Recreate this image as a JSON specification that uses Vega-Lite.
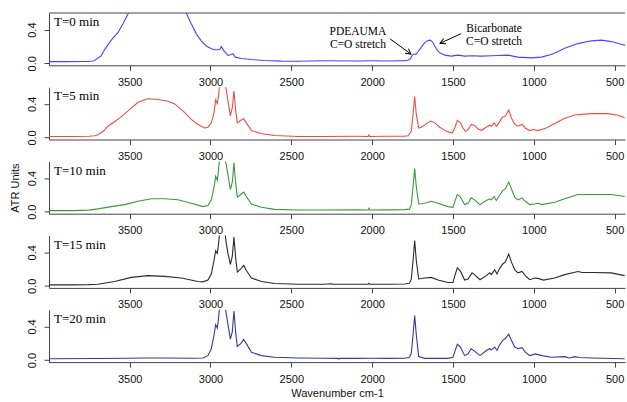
{
  "$schema": "https://vega.github.io/schema/vega-lite/v6.json",
  "padding": {"left": 8, "top": 12, "right": 0, "bottom": 0},
  "bounds": "flush",
  "spacing": 21.2,
  "config": {
    "view": {"stroke": null},
    "axis": {"labelFont": "Liberation Sans", "labelFontSize": 11, "labelColor": "#111", "domainColor": "#444", "tickColor": "#444", "tickSize": 5, "grid": false, "titleFont": "Liberation Sans", "titleFontSize": 11, "titleFontWeight": "normal", "titleColor": "#111"},
    "line": {"strokeWidth": 1.1}
  },
  "datasets": {
    "s0": [{"w":4000,"a":0.02},{"w":3900,"a":0.02},{"w":3800,"a":0.021},{"w":3758,"a":0.022},{"w":3730,"a":0.027},{"w":3716,"a":0.033},{"w":3696,"a":0.064},{"w":3677,"a":0.085},{"w":3654,"a":0.166},{"w":3614,"a":0.275},{"w":3572,"a":0.367},{"w":3541,"a":0.469},{"w":3510,"a":0.59},{"w":3480,"a":0.75},{"w":3400,"a":0.95},{"w":3300,"a":1.0},{"w":3200,"a":0.85},{"w":3160,"a":0.66},{"w":3150,"a":0.598},{"w":3119,"a":0.469},{"w":3088,"a":0.35},{"w":3057,"a":0.267},{"w":3026,"a":0.206},{"w":2995,"a":0.173},{"w":2964,"a":0.158},{"w":2943,"a":0.166},{"w":2933,"a":0.198},{"w":2916,"a":0.145},{"w":2892,"a":0.093},{"w":2871,"a":0.105},{"w":2861,"a":0.113},{"w":2847,"a":0.073},{"w":2809,"a":0.057},{"w":2747,"a":0.045},{"w":2665,"a":0.033},{"w":2562,"a":0.026},{"w":2459,"a":0.025},{"w":2300,"a":0.03},{"w":2100,"a":0.028},{"w":2000,"a":0.03},{"w":1900,"a":0.028},{"w":1800,"a":0.032},{"w":1778,"a":0.036},{"w":1765,"a":0.05},{"w":1750,"a":0.1},{"w":1740,"a":0.11},{"w":1730,"a":0.105},{"w":1715,"a":0.14},{"w":1700,"a":0.18},{"w":1675,"a":0.246},{"w":1655,"a":0.27},{"w":1640,"a":0.275},{"w":1625,"a":0.25},{"w":1613,"a":0.206},{"w":1595,"a":0.15},{"w":1582,"a":0.125},{"w":1551,"a":0.097},{"w":1510,"a":0.085},{"w":1469,"a":0.097},{"w":1428,"a":0.085},{"w":1380,"a":0.09},{"w":1325,"a":0.085},{"w":1260,"a":0.09},{"w":1222,"a":0.093},{"w":1160,"a":0.097},{"w":1130,"a":0.085},{"w":1098,"a":0.073},{"w":1016,"a":0.064},{"w":954,"a":0.073},{"w":892,"a":0.105},{"w":850,"a":0.14},{"w":809,"a":0.178},{"w":727,"a":0.234},{"w":644,"a":0.267},{"w":582,"a":0.275},{"w":521,"a":0.258},{"w":459,"a":0.226},{"w":430,"a":0.21}],
    "s1": [{"w":4000,"a":0.012},{"w":3850,"a":0.012},{"w":3750,"a":0.015},{"w":3716,"a":0.02},{"w":3696,"a":0.033},{"w":3660,"a":0.08},{"w":3634,"a":0.134},{"w":3572,"a":0.216},{"w":3510,"a":0.317},{"w":3448,"a":0.418},{"w":3387,"a":0.46},{"w":3325,"a":0.451},{"w":3263,"a":0.43},{"w":3222,"a":0.399},{"w":3170,"a":0.317},{"w":3119,"a":0.216},{"w":3078,"a":0.155},{"w":3036,"a":0.113},{"w":3016,"a":0.122},{"w":2995,"a":0.174},{"w":2978,"a":0.296},{"w":2968,"a":0.447},{"w":2958,"a":0.406},{"w":2950,"a":0.5},{"w":2943,"a":0.65},{"w":2925,"a":0.7},{"w":2912,"a":0.65},{"w":2902,"a":0.56},{"w":2892,"a":0.439},{"w":2877,"a":0.256},{"w":2865,"a":0.357},{"w":2855,"a":0.552},{"w":2844,"a":0.317},{"w":2834,"a":0.174},{"w":2813,"a":0.204},{"w":2795,"a":0.223},{"w":2778,"a":0.174},{"w":2747,"a":0.082},{"w":2685,"a":0.045},{"w":2603,"a":0.024},{"w":2459,"a":0.012},{"w":2300,"a":0.012},{"w":2100,"a":0.014},{"w":2025,"a":0.012},{"w":2020,"a":0.03},{"w":2015,"a":0.012},{"w":1900,"a":0.014},{"w":1800,"a":0.016},{"w":1778,"a":0.02},{"w":1758,"a":0.073},{"w":1747,"a":0.277},{"w":1737,"a":0.488},{"w":1727,"a":0.277},{"w":1712,"a":0.113},{"w":1696,"a":0.122},{"w":1665,"a":0.162},{"w":1638,"a":0.195},{"w":1613,"a":0.174},{"w":1582,"a":0.122},{"w":1541,"a":0.073},{"w":1506,"a":0.053},{"w":1489,"a":0.113},{"w":1473,"a":0.204},{"w":1454,"a":0.174},{"w":1438,"a":0.113},{"w":1424,"a":0.073},{"w":1407,"a":0.094},{"w":1387,"a":0.155},{"w":1367,"a":0.143},{"w":1345,"a":0.101},{"w":1325,"a":0.085},{"w":1294,"a":0.122},{"w":1273,"a":0.146},{"w":1263,"a":0.134},{"w":1246,"a":0.174},{"w":1232,"a":0.134},{"w":1213,"a":0.183},{"w":1197,"a":0.235},{"w":1176,"a":0.256},{"w":1155,"a":0.325},{"w":1139,"a":0.235},{"w":1118,"a":0.155},{"w":1098,"a":0.134},{"w":1073,"a":0.155},{"w":1053,"a":0.113},{"w":1025,"a":0.082},{"w":1005,"a":0.094},{"w":974,"a":0.082},{"w":923,"a":0.113},{"w":861,"a":0.174},{"w":809,"a":0.228},{"w":747,"a":0.268},{"w":644,"a":0.284},{"w":541,"a":0.284},{"w":479,"a":0.264},{"w":438,"a":0.235}],
    "s2": [{"w":4000,"a":0.012},{"w":3850,"a":0.012},{"w":3750,"a":0.018},{"w":3696,"a":0.033},{"w":3614,"a":0.06},{"w":3531,"a":0.084},{"w":3448,"a":0.124},{"w":3366,"a":0.153},{"w":3283,"a":0.153},{"w":3201,"a":0.141},{"w":3119,"a":0.1},{"w":3047,"a":0.06},{"w":3016,"a":0.072},{"w":2995,"a":0.141},{"w":2978,"a":0.293},{"w":2968,"a":0.42},{"w":2958,"a":0.373},{"w":2950,"a":0.5},{"w":2943,"a":0.65},{"w":2925,"a":0.7},{"w":2912,"a":0.65},{"w":2902,"a":0.55},{"w":2892,"a":0.434},{"w":2877,"a":0.261},{"w":2865,"a":0.353},{"w":2855,"a":0.58},{"w":2844,"a":0.333},{"w":2834,"a":0.173},{"w":2813,"a":0.205},{"w":2795,"a":0.233},{"w":2778,"a":0.18},{"w":2747,"a":0.092},{"w":2685,"a":0.052},{"w":2603,"a":0.028},{"w":2459,"a":0.02},{"w":2300,"a":0.02},{"w":2100,"a":0.022},{"w":2025,"a":0.02},{"w":2020,"a":0.04},{"w":2015,"a":0.02},{"w":1900,"a":0.022},{"w":1800,"a":0.024},{"w":1770,"a":0.03},{"w":1758,"a":0.08},{"w":1747,"a":0.3},{"w":1737,"a":0.514},{"w":1727,"a":0.3},{"w":1712,"a":0.092},{"w":1696,"a":0.095},{"w":1675,"a":0.1},{"w":1634,"a":0.124},{"w":1593,"a":0.1},{"w":1531,"a":0.06},{"w":1500,"a":0.052},{"w":1489,"a":0.12},{"w":1473,"a":0.205},{"w":1454,"a":0.173},{"w":1428,"a":0.084},{"w":1407,"a":0.1},{"w":1387,"a":0.165},{"w":1367,"a":0.141},{"w":1333,"a":0.084},{"w":1294,"a":0.133},{"w":1273,"a":0.153},{"w":1263,"a":0.141},{"w":1246,"a":0.181},{"w":1232,"a":0.133},{"w":1213,"a":0.193},{"w":1191,"a":0.253},{"w":1176,"a":0.273},{"w":1155,"a":0.353},{"w":1139,"a":0.273},{"w":1118,"a":0.173},{"w":1098,"a":0.141},{"w":1073,"a":0.165},{"w":1053,"a":0.124},{"w":1025,"a":0.084},{"w":995,"a":0.092},{"w":974,"a":0.1},{"w":950,"a":0.084},{"w":871,"a":0.112},{"w":809,"a":0.153},{"w":747,"a":0.193},{"w":727,"a":0.205},{"w":644,"a":0.205},{"w":521,"a":0.205},{"w":438,"a":0.181}],
    "s3": [{"w":4000,"a":0.012},{"w":3850,"a":0.012},{"w":3750,"a":0.015},{"w":3696,"a":0.02},{"w":3593,"a":0.052},{"w":3490,"a":0.101},{"w":3387,"a":0.122},{"w":3283,"a":0.113},{"w":3180,"a":0.094},{"w":3078,"a":0.052},{"w":3047,"a":0.048},{"w":3016,"a":0.069},{"w":2995,"a":0.142},{"w":2978,"a":0.305},{"w":2968,"a":0.418},{"w":2958,"a":0.386},{"w":2950,"a":0.5},{"w":2943,"a":0.65},{"w":2925,"a":0.7},{"w":2912,"a":0.65},{"w":2902,"a":0.5},{"w":2892,"a":0.386},{"w":2877,"a":0.256},{"w":2865,"a":0.354},{"w":2855,"a":0.58},{"w":2844,"a":0.325},{"w":2834,"a":0.163},{"w":2813,"a":0.203},{"w":2795,"a":0.244},{"w":2778,"a":0.183},{"w":2747,"a":0.094},{"w":2685,"a":0.052},{"w":2603,"a":0.028},{"w":2459,"a":0.02},{"w":2300,"a":0.02},{"w":2250,"a":0.025},{"w":2245,"a":0.02},{"w":2100,"a":0.02},{"w":2025,"a":0.02},{"w":2020,"a":0.03},{"w":2015,"a":0.02},{"w":1900,"a":0.02},{"w":1800,"a":0.022},{"w":1770,"a":0.03},{"w":1758,"a":0.08},{"w":1747,"a":0.3},{"w":1737,"a":0.54},{"w":1727,"a":0.3},{"w":1712,"a":0.082},{"w":1675,"a":0.094},{"w":1634,"a":0.101},{"w":1593,"a":0.069},{"w":1531,"a":0.04},{"w":1500,"a":0.04},{"w":1489,"a":0.12},{"w":1473,"a":0.215},{"w":1454,"a":0.175},{"w":1428,"a":0.069},{"w":1407,"a":0.081},{"w":1382,"a":0.155},{"w":1367,"a":0.134},{"w":1333,"a":0.073},{"w":1294,"a":0.122},{"w":1273,"a":0.155},{"w":1263,"a":0.134},{"w":1242,"a":0.191},{"w":1228,"a":0.142},{"w":1213,"a":0.203},{"w":1191,"a":0.264},{"w":1176,"a":0.285},{"w":1155,"a":0.378},{"w":1139,"a":0.285},{"w":1118,"a":0.191},{"w":1098,"a":0.155},{"w":1073,"a":0.171},{"w":1053,"a":0.122},{"w":1025,"a":0.073},{"w":995,"a":0.094},{"w":974,"a":0.089},{"w":940,"a":0.069},{"w":871,"a":0.094},{"w":809,"a":0.134},{"w":747,"a":0.163},{"w":727,"a":0.171},{"w":700,"a":0.16},{"w":644,"a":0.159},{"w":521,"a":0.155},{"w":438,"a":0.122}],
    "s4": [{"w":4000,"a":0.016},{"w":3700,"a":0.018},{"w":3500,"a":0.022},{"w":3400,"a":0.025},{"w":3300,"a":0.024},{"w":3100,"a":0.022},{"w":3047,"a":0.025},{"w":3016,"a":0.053},{"w":2995,"a":0.135},{"w":2978,"a":0.298},{"w":2968,"a":0.421},{"w":2958,"a":0.38},{"w":2950,"a":0.5},{"w":2943,"a":0.65},{"w":2925,"a":0.7},{"w":2912,"a":0.65},{"w":2902,"a":0.55},{"w":2892,"a":0.421},{"w":2877,"a":0.249},{"w":2865,"a":0.339},{"w":2855,"a":0.584},{"w":2844,"a":0.323},{"w":2834,"a":0.163},{"w":2813,"a":0.196},{"w":2795,"a":0.245},{"w":2778,"a":0.196},{"w":2747,"a":0.094},{"w":2685,"a":0.053},{"w":2603,"a":0.033},{"w":2459,"a":0.025},{"w":2300,"a":0.022},{"w":2210,"a":0.02},{"w":2205,"a":0.01},{"w":2200,"a":0.022},{"w":2100,"a":0.02},{"w":2000,"a":0.022},{"w":1900,"a":0.02},{"w":1800,"a":0.022},{"w":1770,"a":0.03},{"w":1758,"a":0.08},{"w":1747,"a":0.3},{"w":1737,"a":0.531},{"w":1727,"a":0.3},{"w":1712,"a":0.041},{"w":1675,"a":0.02},{"w":1593,"a":0.02},{"w":1531,"a":0.02},{"w":1500,"a":0.033},{"w":1489,"a":0.1},{"w":1473,"a":0.188},{"w":1454,"a":0.155},{"w":1428,"a":0.053},{"w":1407,"a":0.074},{"w":1387,"a":0.135},{"w":1367,"a":0.106},{"w":1333,"a":0.053},{"w":1294,"a":0.114},{"w":1273,"a":0.135},{"w":1263,"a":0.122},{"w":1242,"a":0.155},{"w":1228,"a":0.114},{"w":1213,"a":0.176},{"w":1191,"a":0.237},{"w":1176,"a":0.257},{"w":1155,"a":0.31},{"w":1139,"a":0.237},{"w":1118,"a":0.155},{"w":1098,"a":0.135},{"w":1073,"a":0.147},{"w":1053,"a":0.094},{"w":1025,"a":0.053},{"w":990,"a":0.074},{"w":950,"a":0.053},{"w":892,"a":0.033},{"w":809,"a":0.041},{"w":780,"a":0.025},{"w":747,"a":0.041},{"w":720,"a":0.03},{"w":644,"a":0.025},{"w":438,"a":0.016}]
  },
  "vconcat": [
    {
      "width": 576, "height": 52.3,
      "layer": [
        {"data": {"values": [{"k": 1}]}, "mark": {"type": "rule", "color": "#444", "strokeWidth": 1}, "encoding": {"y": {"datum": 0.598}}},
        {"data": {"name": "s0"}, "mark": {"type": "line", "color": "#4646ff", "clip": true},
         "encoding": {
           "x": {"field": "w", "type": "quantitative", "scale": {"domain": [3999, 436], "nice": false, "zero": false}, "axis": {"values": [3500,3000,2500,2000,1500,1000,500], "format": "d", "labelFlush": false, "labelOverlap": false, "labelPadding": 6, "title": null}},
           "y": {"field": "a", "type": "quantitative", "scale": {"domain": [-0.024, 0.598], "nice": false, "zero": false}, "axis": {"values": [0,0.2,0.4], "labelExpr": "datum.value == 0.2 ? '' : format(datum.value, '.1f')", "labelAngle": 270, "labelAlign": "center", "labelBaseline": "alphabetic", "labelPadding": 9, "title": null}}
         }},
        {"data": {"values": [{"lab": "T=0 min"}]}, "mark": {"type": "text", "font": "Liberation Serif", "fontSize": 13, "align": "left", "baseline": "alphabetic", "color": "#000"}, "encoding": {"x": {"datum": 3968}, "y": {"datum": 0.44}, "text": {"field": "lab"}}},
        {"data": {"values": [{"txt": ["PDEAUMA", "C=O stretch"], "w": 2088, "a": 0.334}, {"txt": ["Bicarbonate", "C=O stretch"], "w": 1246, "a": 0.37}]}, "mark": {"type": "text", "font": "Liberation Serif", "fontSize": 11.5, "lineHeight": 12.8, "align": "center", "baseline": "alphabetic", "color": "#000"}, "encoding": {"x": {"field": "w", "type": "quantitative"}, "y": {"field": "a", "type": "quantitative"}, "text": {"field": "txt"}}},
        {"data": {"values": [{"w": 1890, "a": 0.291, "w2": 1760, "a2": 0.11}, {"w": 1450, "a": 0.352, "w2": 1580, "a2": 0.237}]}, "mark": {"type": "rule", "color": "#000", "strokeWidth": 1}, "encoding": {"x": {"field": "w", "type": "quantitative"}, "y": {"field": "a", "type": "quantitative"}, "x2": {"field": "w2"}, "y2": {"field": "a2"}}},
        {"data": {"values": [{"w": 1760, "a": 0.11}]}, "mark": {"type": "point", "shape": "M-1,-0.55L0,0L-1,0.55", "filled": false, "stroke": "#000", "strokeWidth": 1, "size": 110, "angle": 35.5, "opacity": 1}, "encoding": {"x": {"field": "w", "type": "quantitative"}, "y": {"field": "a", "type": "quantitative"}}},
        {"data": {"values": [{"w": 1580, "a": 0.237}]}, "mark": {"type": "point", "shape": "M-1,-0.55L0,0L-1,0.55", "filled": false, "stroke": "#000", "strokeWidth": 1, "size": 110, "angle": 155.7, "opacity": 1}, "encoding": {"x": {"field": "w", "type": "quantitative"}, "y": {"field": "a", "type": "quantitative"}}}
      ]
    },
    {
      "width": 576, "height": 52.3,
      "layer": [
        {"data": {"name": "s1"}, "mark": {"type": "line", "color": "#ef4b45", "clip": true},
         "encoding": {
           "x": {"field": "w", "type": "quantitative", "scale": {"domain": [3999, 436], "nice": false, "zero": false}, "axis": {"values": [3500,3000,2500,2000,1500,1000,500], "format": "d", "labelFlush": false, "labelOverlap": false, "labelPadding": 6, "title": null}},
           "y": {"field": "a", "type": "quantitative", "scale": {"domain": [-0.024, 0.598], "nice": false, "zero": false}, "axis": {"values": [0,0.2,0.4], "labelExpr": "datum.value == 0.2 ? '' : format(datum.value, '.1f')", "labelAngle": 270, "labelAlign": "center", "labelBaseline": "alphabetic", "labelPadding": 9, "title": null}}
         }},
        {"data": {"values": [{"lab": "T=5 min"}]}, "mark": {"type": "text", "font": "Liberation Serif", "fontSize": 13, "align": "left", "baseline": "alphabetic", "color": "#000"}, "encoding": {"x": {"datum": 3968}, "y": {"datum": 0.44}, "text": {"field": "lab"}}}
      ]
    },
    {
      "width": 576, "height": 52.3,
      "layer": [
        {"data": {"name": "s2"}, "mark": {"type": "line", "color": "#3c963c", "clip": true},
         "encoding": {
           "x": {"field": "w", "type": "quantitative", "scale": {"domain": [3999, 436], "nice": false, "zero": false}, "axis": {"values": [3500,3000,2500,2000,1500,1000,500], "format": "d", "labelFlush": false, "labelOverlap": false, "labelPadding": 6, "title": null}},
           "y": {"field": "a", "type": "quantitative", "scale": {"domain": [-0.024, 0.598], "nice": false, "zero": false}, "axis": {"values": [0,0.2,0.4], "labelExpr": "datum.value == 0.2 ? '' : format(datum.value, '.1f')", "labelAngle": 270, "labelAlign": "center", "labelBaseline": "alphabetic", "labelPadding": 9, "title": "ATR Units", "titlePadding": 6}}
         }},
        {"data": {"values": [{"lab": "T=10 min"}]}, "mark": {"type": "text", "font": "Liberation Serif", "fontSize": 13, "align": "left", "baseline": "alphabetic", "color": "#000"}, "encoding": {"x": {"datum": 3968}, "y": {"datum": 0.44}, "text": {"field": "lab"}}}
      ]
    },
    {
      "width": 576, "height": 52.3,
      "layer": [
        {"data": {"name": "s3"}, "mark": {"type": "line", "color": "#2b2b2b", "clip": true},
         "encoding": {
           "x": {"field": "w", "type": "quantitative", "scale": {"domain": [3999, 436], "nice": false, "zero": false}, "axis": {"values": [3500,3000,2500,2000,1500,1000,500], "format": "d", "labelFlush": false, "labelOverlap": false, "labelPadding": 6, "title": null}},
           "y": {"field": "a", "type": "quantitative", "scale": {"domain": [-0.024, 0.598], "nice": false, "zero": false}, "axis": {"values": [0,0.2,0.4], "labelExpr": "datum.value == 0.2 ? '' : format(datum.value, '.1f')", "labelAngle": 270, "labelAlign": "center", "labelBaseline": "alphabetic", "labelPadding": 9, "title": null}}
         }},
        {"data": {"values": [{"lab": "T=15 min"}]}, "mark": {"type": "text", "font": "Liberation Serif", "fontSize": 13, "align": "left", "baseline": "alphabetic", "color": "#000"}, "encoding": {"x": {"datum": 3968}, "y": {"datum": 0.44}, "text": {"field": "lab"}}}
      ]
    },
    {
      "width": 576, "height": 52.3,
      "layer": [
        {"data": {"name": "s4"}, "mark": {"type": "line", "color": "#3838a2", "clip": true},
         "encoding": {
           "x": {"field": "w", "type": "quantitative", "scale": {"domain": [3999, 436], "nice": false, "zero": false}, "axis": {"values": [3500,3000,2500,2000,1500,1000,500], "format": "d", "labelFlush": false, "labelOverlap": false, "labelPadding": 6, "title": "Wavenumber cm-1", "titlePadding": 3}},
           "y": {"field": "a", "type": "quantitative", "scale": {"domain": [-0.024, 0.598], "nice": false, "zero": false}, "axis": {"values": [0,0.2,0.4], "labelExpr": "datum.value == 0.2 ? '' : format(datum.value, '.1f')", "labelAngle": 270, "labelAlign": "center", "labelBaseline": "alphabetic", "labelPadding": 9, "title": null}}
         }},
        {"data": {"values": [{"lab": "T=20 min"}]}, "mark": {"type": "text", "font": "Liberation Serif", "fontSize": 13, "align": "left", "baseline": "alphabetic", "color": "#000"}, "encoding": {"x": {"datum": 3968}, "y": {"datum": 0.44}, "text": {"field": "lab"}}}
      ]
    }
  ]
}
